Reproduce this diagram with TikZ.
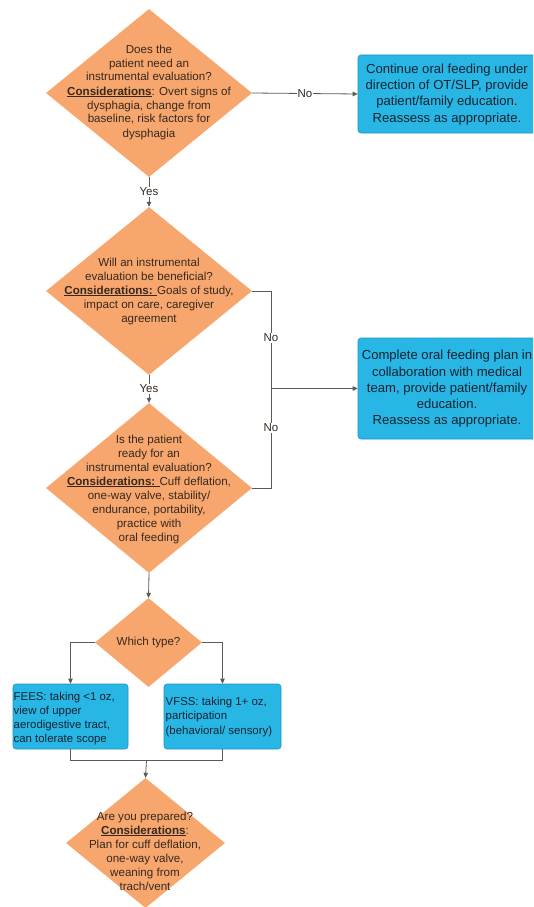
\documentclass[tikz,border=0pt]{standalone}
\usepackage{fontspec}
\setmainfont{Liberation Sans}
\usetikzlibrary{shapes.geometric,arrows.meta}
\definecolor{dorange}{RGB}{247,167,110}
\definecolor{dcyan}{RGB}{40,182,228}
\definecolor{dcyanb}{RGB}{28,150,200}
\definecolor{conncol}{RGB}{90,90,90}
\definecolor{dtext}{RGB}{55,40,30}
\definecolor{btext}{RGB}{20,35,50}
\begin{document}
\begin{tikzpicture}[x=1pt,y=-1pt,
  dia/.style={diamond, fill=dorange, draw=none, inner sep=0pt},
  dtxt/.style={align=center, text=dtext, font=\fontsize{11.6}{14}\selectfont, inner sep=0pt},
  bbox/.style={rectangle, rounded corners=3pt, fill=dcyan, draw=dcyanb, line width=0.6pt, inner sep=0pt},
  btxt/.style={align=center, text=btext, font=\fontsize{13.1}{16.2}\selectfont, inner sep=0pt},
  stxt/.style={align=left, text=btext, font=\fontsize{11.4}{14.3}\selectfont, inner sep=0pt, anchor=west},
  cline/.style={draw=conncol, line width=0.8pt},
  arr/.style={cline, -{Triangle[length=5pt,width=4.5pt]}},
  lab/.style={fill=white, inner sep=1pt, text=dtext, font=\fontsize{11.5}{13}\selectfont}]
\clip (0,0) rectangle (533,907);
\fill[white] (0,0) rectangle (533,907);

% diamonds
\node[dia, minimum width=206pt, minimum height=168pt] (d1) at (149,93) {};
\node[dtxt] (t1) at (149,92) {Does the\\patient need an\\instrumental evaluation?\\\underline{\textbf{Considerations}}: Overt signs of\\dysphagia, change from\\baseline, risk factors for\\dysphagia};

\node[dia, minimum width=206pt, minimum height=168pt] (d2) at (149,291) {};
\node[dtxt] (t2) at (149,291) {Will an instrumental\\evaluation be beneficial?\\\underline{\textbf{Considerations:} }Goals of study,\\impact on care, caregiver\\agreement};

\node[dia, minimum width=206pt, minimum height=170pt] (d3) at (149,488) {};
\node[dtxt] (t3) at (149,489) {Is the patient\\ready for an\\instrumental evaluation?\\\underline{\textbf{Considerations:} }Cuff deflation,\\one-way valve, stability/\\endurance, portability,\\practice with\\oral feeding};

\node[dia, minimum width=107pt, minimum height=89pt] (d4) at (148.5,642.5) {};
\node[dtxt] (t4) at (148.5,642.5) {Which type?};

\node[dia, minimum width=159pt, minimum height=130pt] (d5) at (145.5,843) {};
\node[dtxt] (t5) at (145,851) {Are you prepared?\\\underline{\textbf{Considerations}}:\\Plan for cuff deflation,\\one-way valve,\\weaning from\\trach/vent};

% boxes
\node[bbox, minimum width=178pt, minimum height=78pt] (b1) at (447,94) {};
\node[btxt] (bt1) at (447,94.5) {Continue oral feeding under\\direction of OT/SLP, provide\\patient/family education.\\Reassess as appropriate.};

\node[bbox, minimum width=178pt, minimum height=101pt] (b2) at (447,388.5) {};
\node[btxt] (bt2) at (447,389) {Complete oral feeding plan in\\collaboration with medical\\team, provide patient/family\\education.\\Reassess as appropriate.};

\node[bbox, minimum width=115pt, minimum height=65pt] (fees) at (70.5,716.5) {};
\node[stxt] (ft) at (13.5,718.5) {FEES: taking <1 oz,\\view of upper\\aerodigestive tract,\\can tolerate scope};

\node[bbox, minimum width=117pt, minimum height=65pt] (vfss) at (222.5,716.5) {};
\node[stxt] (vt) at (165.5,717) {VFSS: taking 1+ oz,\\participation\\(behavioral/ sensory)};

% connectors
\draw[arr] (d1.east) -- node[lab] (no1) {No} (b1.west);
\draw[arr] (d1.south) -- node[lab] (yes1) {Yes} (d2.north);
\draw[arr] (d2.south) -- node[lab] (yes2) {Yes} (d3.north);

\coordinate (jn) at (271,388.5);
\draw[cline] (d2.east) -| (jn);
\draw[cline] (d3.east) -| (jn);
\draw[arr] (jn) -- (b2.west);
\node[lab] (no2) at (271,338) {No};
\node[lab] (no3) at (271,428) {No};

\draw[arr] (d3.south) -- (d4.north);
\draw[arr] (d4.west) -| (fees.north);
\draw[arr] (d4.east) -| (vfss.north);

\coordinate (jb) at (146.5,760);
\draw[cline] (fees.south) |- (jb);
\draw[cline] (vfss.south) |- (jb);
\draw[arr] (jb) -- (d5.north);
\end{tikzpicture}
\end{document}
